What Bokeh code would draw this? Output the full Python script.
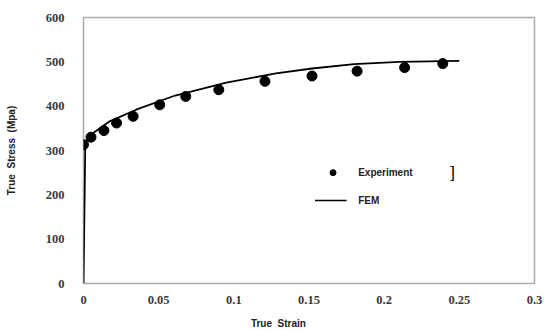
from bokeh.plotting import figure
from bokeh.models import Range1d, FixedTicker, Label
from bokeh.embed import file_html
from bokeh.resources import INLINE

# Experiment data (true strain, true stress MPa)
exp_strain = [0.0, 0.005, 0.0136, 0.022, 0.033, 0.0507, 0.068, 0.09, 0.1207, 0.152, 0.182, 0.2136, 0.239]
exp_stress = [313, 330, 345, 362, 377, 403, 422, 437, 456, 468, 479, 487, 496]

# FEM curve
fem_strain = [0.0, 0.0012, 0.005, 0.017, 0.035, 0.061, 0.095, 0.128, 0.152, 0.18, 0.21, 0.25]
fem_stress = [0, 318, 336, 365, 392, 424, 453, 474, 485, 495, 500, 502]

x_ticks = [0, 0.05, 0.1, 0.15, 0.2, 0.25, 0.3]
x_tick_labels = ["0", "0.05", "0.1", "0.15", "0.2", "0.25", "0.3"]
y_ticks = [0, 100, 200, 300, 400, 500, 600]

NB = "\u00a0"

p = figure(width=544, height=331, output_backend="svg", toolbar_location=None,
           x_range=Range1d(0, 0.3), y_range=Range1d(0, 600),
           min_border_left=83, min_border_right=10, min_border_top=17, min_border_bottom=48)
p.background_fill_color = "white"
p.border_fill_color = "white"
p.outline_line_color = "#aaaaaa"
p.outline_line_width = 1.5
p.grid.visible = False

for ax in (p.xaxis[0], p.yaxis[0]):
    ax.axis_line_color = None
    ax.major_tick_line_color = None
    ax.minor_tick_line_color = None
    ax.major_label_text_font = "Liberation Serif"
    ax.major_label_text_font_style = "bold"
    ax.major_label_text_font_size = "12.5px"
    ax.major_label_text_color = "#3a3a3a"
    ax.axis_label_text_font = "Liberation Sans"
    ax.axis_label_text_font_style = "bold"
    ax.axis_label_text_font_size = "10px"
    ax.axis_label_text_color = "#222222"

p.xaxis.ticker = FixedTicker(ticks=x_ticks)
p.xaxis.major_label_overrides = {t: l for t, l in zip(x_ticks, x_tick_labels)}
p.xaxis.major_label_standoff = 6
p.xaxis.axis_label = "True" + NB * 2 + "Strain" + NB * 22
p.xaxis.axis_label_standoff = 11
p.yaxis.ticker = FixedTicker(ticks=y_ticks)
p.yaxis.major_label_standoff = 13
p.yaxis.axis_label = "True" + NB * 2 + "Stress" + NB * 2 + "(Mpa)"
p.yaxis.axis_label_standoff = 26

# FEM line
p.line(fem_strain, fem_stress, line_color="black", line_width=1.8)
# Experiment points
p.scatter(exp_strain, exp_stress, size=10, color="black")

# Legend (manual)
p.scatter([0.166], [250], size=6, color="black")
p.line([0.154, 0.175], [187, 187], line_color="black", line_width=1.5)
p.add_layout(Label(x=0.1827, y=250, text="Experiment", text_font="Liberation Sans",
                   text_font_style="bold", text_font_size="10px", text_baseline="middle",
                   text_color="#222222"))
p.add_layout(Label(x=0.1827, y=187, text="FEM", text_font="Liberation Sans",
                   text_font_style="bold", text_font_size="10px", text_baseline="middle",
                   text_color="#222222"))
p.add_layout(Label(x=0.244, y=251, text="]", text_font="Liberation Sans",
                   text_font_size="17px", text_baseline="middle", text_color="#111111"))

open("out.html", "w").write(file_html(p, INLINE))
